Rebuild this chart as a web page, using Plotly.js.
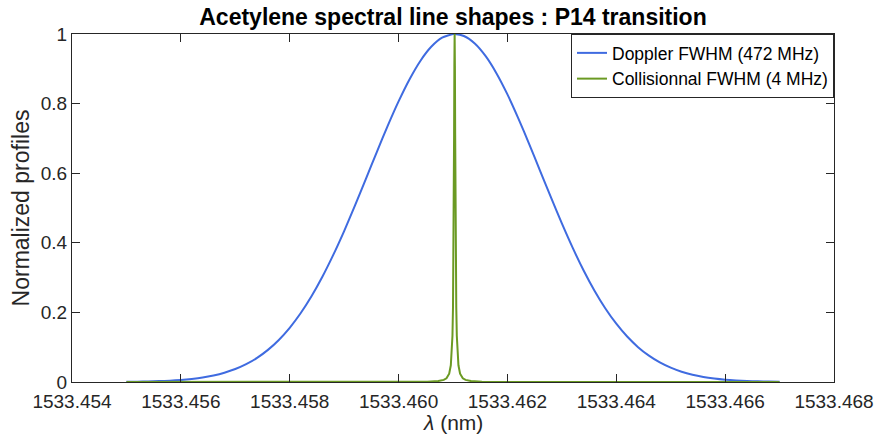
<!DOCTYPE html>
<html>
<head>
<meta charset="utf-8">
<script src="https://cdn.plot.ly/plotly-3.0.1.min.js"></script>
<style>html,body{margin:0;padding:0;background:#fff;}#chart{width:877px;height:435px;}</style>
</head>
<body>
<div id="chart"></div>
<script>
// Wavelength grid (nm) for the Doppler profile
const dopplerX = [
1533.4550,1533.4552,1533.4554,1533.4556,1533.4558,1533.4560,1533.4562,1533.4564,1533.4566,1533.4568,
1533.4570,1533.4572,1533.4574,1533.4576,1533.4578,1533.4580,1533.4582,1533.4584,1533.4586,1533.4588,
1533.4590,1533.4592,1533.4594,1533.4596,1533.4598,1533.4600,1533.4602,1533.4604,1533.4606,1533.4608,
1533.4610,1533.46103,1533.4612,1533.4614,1533.4616,1533.4618,1533.4620,1533.4622,1533.4624,1533.4626,1533.4628,
1533.4630,1533.4632,1533.4634,1533.4636,1533.4638,1533.4640,1533.4642,1533.4644,1533.4646,1533.4648,
1533.4650,1533.4652,1533.4654,1533.4656,1533.4658,1533.4660,1533.4662,1533.4664,1533.4666,1533.4668,
1533.4670];
// Doppler (Gaussian) normalized profile values
const dopplerY = [
0.0006,0.0010,0.0016,0.0026,0.0039,0.0059,0.0089,0.0130,0.0188,0.0267,
0.0373,0.0513,0.0693,0.0923,0.1209,0.1557,0.1974,0.2463,0.3023,0.3652,
0.4338,0.5075,0.5838,0.6608,0.7360,0.8063,0.8694,0.9226,0.9632,0.9893,
0.9998,1.0000,0.9942,0.9727,0.9363,0.8868,0.8265,0.7578,0.6837,0.6070,0.5302,
0.4556,0.3853,0.3205,0.2624,0.2113,0.1675,0.1306,0.1002,0.0757,0.0562,
0.0411,0.0295,0.0209,0.0146,0.0100,0.0067,0.0045,0.0029,0.0019,0.0012,
0.0007];
// Collisional (Lorentzian) profile: wavelength grid (nm) and values
const collX = [
1533.45500,1533.45803,1533.46003,1533.46053,1533.46073,1533.46083,1533.46088,1533.46093,
1533.46096,1533.46098,1533.46099,1533.46100,1533.46101,1533.461014,1533.46102,1533.461025,
1533.46103,
1533.461035,1533.46104,1533.461046,1533.46105,1533.46106,1533.46107,1533.46108,1533.46110,
1533.46113,1533.46118,1533.46123,1533.46133,1533.46153,1533.46203,1533.46403,1533.46700];
const collY = [
0.0000,0.00003,0.00025,0.00098,0.0027,0.0061,0.0108,0.024,0.048,0.090,0.133,0.215,0.381,0.500,0.711,0.908,
1.000,
0.908,0.711,0.500,0.381,0.215,0.133,0.090,0.048,0.024,0.0108,0.0061,0.0027,0.00098,0.00025,0.00003,0.0000];
const seriesNames = ['Doppler FWHM (472 MHz)','Collisionnal FWHM (4 MHz)'];
const xTicks = [1533.454,1533.456,1533.458,1533.460,1533.462,1533.464,1533.466,1533.468];
const yTicks = [0,0.2,0.4,0.6,0.8,1];

const axisCol = '#262626';
const fam = '"Liberation Sans", Arial, Helvetica, sans-serif';
const tickFont = {family:fam, size:19, color:axisCol};
const labelFont = {family:fam, size:21, color:axisCol};

const traces = [
 {x:dopplerX, y:dopplerY, type:'scatter', mode:'lines', name:seriesNames[0],
  line:{color:'#3f6be0', width:2, shape:'spline', smoothing:0.6}},
 {x:collX, y:collY, type:'scatter', mode:'lines', name:seriesNames[1],
  line:{color:'#6b9a23', width:2}}
];

const layout = {
 width:877, height:435,
 margin:{l:72, r:43, t:34, b:53},
 paper_bgcolor:'#fff', plot_bgcolor:'#fff',
 font:tickFont,
 showlegend:true,
 title:{text:'<b>Acetylene spectral line shapes : P14 transition</b>',
   font:{family:fam, size:23, color:'#000'},
   x:0.5, xref:'paper', y:0.962, yref:'container', yanchor:'middle'},
 xaxis:{range:[1533.454,1533.468], tickvals:xTicks, ticktext:xTicks.map(v=>v.toFixed(3)),
   showgrid:false, zeroline:false, showline:true, linecolor:axisCol, linewidth:1,
   mirror:'ticks', ticks:'inside', ticklen:8, tickcolor:axisCol, tickwidth:1,
   tickfont:tickFont, ticklabelstandoff:2},
 yaxis:{range:[0,1], tickvals:yTicks, ticktext:yTicks.map(v=>String(v)),
   showgrid:false, zeroline:false, showline:true, linecolor:axisCol, linewidth:1,
   mirror:'ticks', ticks:'inside', ticklen:8, tickcolor:axisCol, tickwidth:1,
   tickfont:tickFont,
   title:{text:'Normalized profiles', font:{family:fam, size:23, color:axisCol}, standoff:4}},
 annotations:[{text:'<i>λ</i> (nm)', xref:'paper', yref:'paper', x:0.5, y:-0.116,
   xanchor:'center', yanchor:'middle', showarrow:false, font:labelFont}],
 legend:{x:1, xanchor:'right', y:1, yanchor:'top', xref:'paper', yref:'paper',
   bgcolor:'#fff', bordercolor:axisCol, borderwidth:1,
   font:{family:fam, size:17.5, color:'#000'},
   tracegroupgap:0, itemwidth:30}
};

Plotly.newPlot('chart', traces, layout, {displayModeBar:false, staticPlot:true});
</script>
</body>
</html>
